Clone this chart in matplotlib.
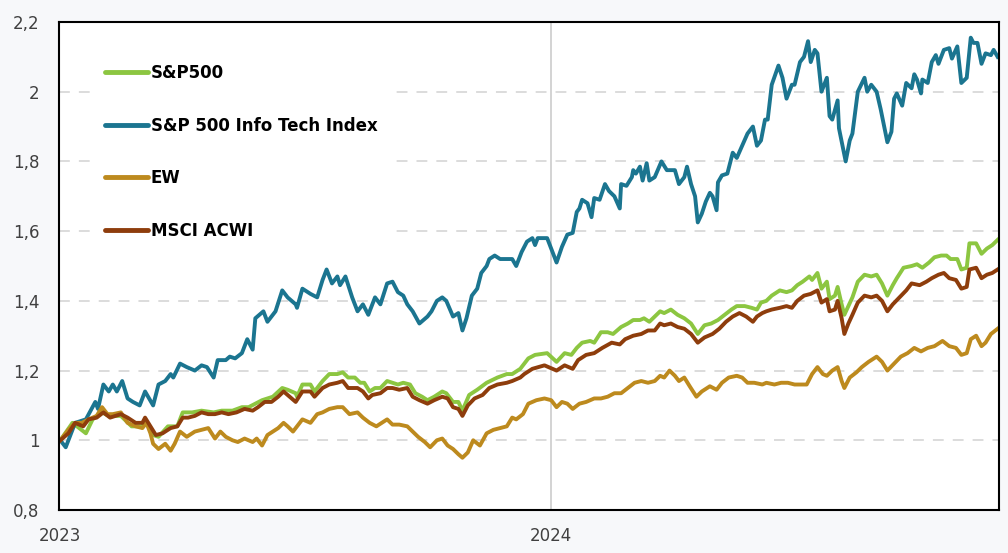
import matplotlib
matplotlib.use('Agg')
import matplotlib.pyplot as plt
import pandas as pd

# Series: day offset from 2023-01-01 and index level (start = 1)
it_days = [0, 4, 11, 19, 26, 28, 32, 36, 39, 42, 46, 50, 54, 59, 63, 69, 73, 78, 82, 84,
           89, 94, 100, 105, 109, 114, 117, 123, 126, 130, 135, 139, 143, 145, 151, 154, 160, 165, 169, 175,
           176, 180, 186, 191, 195, 198, 202, 206, 208, 212, 217, 221, 225, 229, 234, 238, 243, 247, 251, 255,
           258, 262, 267, 273, 276, 280, 284, 287, 292, 296, 299, 302, 306, 310, 313, 317, 319, 323, 327, 332,
           336, 339, 343, 347, 351, 353, 355, 362, 365, 369, 373, 377, 381, 384, 386, 388, 392, 395, 397, 401,
           405, 408, 412, 416, 417, 421, 425, 426, 428, 431, 433, 436, 438, 442, 447, 451, 457, 460, 464, 466,
           469, 472, 474, 477, 480, 483, 485, 488, 489, 492, 496, 500, 503, 507, 511, 515, 518, 521, 524, 526,
           529, 534, 537, 540, 544, 546, 550, 553, 556, 558, 561, 563, 566, 570, 572, 574, 578, 579, 583, 584,
           587, 589, 593, 598, 600, 603, 607, 610, 615, 618, 620, 622, 626, 629, 633, 635, 637, 640, 641, 645,
           648, 651, 653, 657, 661, 663, 667, 670, 674, 677, 679, 682, 685, 688, 692, 694, 697]
it_vals = [1.00, 0.98, 1.05, 1.06, 1.11, 1.09, 1.16, 1.14, 1.16, 1.14, 1.17, 1.12, 1.11, 1.10, 1.14, 1.10, 1.16, 1.17, 1.19, 1.18,
           1.22, 1.21, 1.20, 1.215, 1.21, 1.18, 1.23, 1.23, 1.24, 1.235, 1.25, 1.29, 1.26, 1.35, 1.37, 1.34, 1.37, 1.43, 1.41, 1.39,
           1.38, 1.435, 1.42, 1.41, 1.46, 1.49, 1.45, 1.47, 1.445, 1.47, 1.41, 1.37, 1.39, 1.36, 1.41, 1.39, 1.45, 1.455, 1.425, 1.415,
           1.39, 1.37, 1.335, 1.355, 1.37, 1.40, 1.41, 1.40, 1.355, 1.365, 1.315, 1.35, 1.415, 1.435, 1.48, 1.50, 1.52, 1.53, 1.52, 1.52,
           1.52, 1.50, 1.54, 1.57, 1.58, 1.56, 1.58, 1.58, 1.55, 1.51, 1.555, 1.59, 1.595, 1.655, 1.665, 1.69, 1.68, 1.64, 1.695, 1.69,
           1.735, 1.715, 1.70, 1.665, 1.735, 1.73, 1.755, 1.775, 1.765, 1.785, 1.745, 1.795, 1.745, 1.755, 1.80, 1.775, 1.775, 1.735, 1.755, 1.785,
           1.735, 1.70, 1.625, 1.65, 1.685, 1.71, 1.70, 1.66, 1.74, 1.76, 1.765, 1.825, 1.81, 1.845, 1.88, 1.90, 1.845, 1.86, 1.92, 1.92,
           2.02, 2.075, 2.04, 1.98, 2.02, 2.02, 2.085, 2.10, 2.145, 2.085, 2.12, 2.11, 2.00, 2.04, 1.93, 1.92, 1.975, 1.895, 1.82, 1.80,
           1.86, 1.88, 2.00, 2.04, 2.00, 2.02, 2.00, 1.95, 1.855, 1.885, 1.98, 1.995, 1.96, 2.025, 2.01, 2.05, 2.035, 1.995, 2.035, 2.025,
           2.085, 2.105, 2.08, 2.12, 2.125, 2.095, 2.13, 2.025, 2.04, 2.155, 2.14, 2.14, 2.08, 2.11, 2.105, 2.12, 2.10]

spx_days = [0, 9, 19, 24, 31, 36, 45, 53, 61, 63, 69, 73, 80, 87, 91, 98, 105, 114, 120, 128,
            135, 140, 145, 150, 154, 158, 165, 169, 175, 176, 180, 186, 189, 195, 200, 206, 210, 214, 219, 223,
            226, 230, 234, 238, 243, 247, 251, 255, 260, 264, 269, 273, 278, 284, 287, 292, 296, 299, 304, 310,
            317, 325, 332, 336, 342, 345, 348, 353, 362, 369, 375, 380, 384, 388, 394, 397, 402, 407, 411, 417,
            422, 426, 431, 434, 438, 442, 446, 449, 454, 459, 464, 469, 474, 479, 484, 489, 494, 499, 503, 509,
            514, 518, 521, 525, 529, 535, 540, 544, 548, 552, 557, 559, 563, 566, 570, 572, 576, 578, 581, 583,
            586, 589, 593, 598, 603, 607, 611, 615, 619, 622, 627, 633, 637, 641, 646, 650, 655, 659, 662, 667,
            670, 674, 676, 681, 685, 689, 693, 697]
spx_vals = [1.00, 1.05, 1.02, 1.06, 1.08, 1.07, 1.07, 1.04, 1.04, 1.06, 1.015, 1.01, 1.04, 1.04, 1.08, 1.08, 1.085, 1.08, 1.085, 1.085,
            1.095, 1.095, 1.105, 1.115, 1.12, 1.125, 1.15, 1.145, 1.135, 1.125, 1.16, 1.16, 1.14, 1.17, 1.19, 1.19, 1.195, 1.18, 1.18, 1.165,
            1.165, 1.14, 1.15, 1.15, 1.17, 1.165, 1.16, 1.165, 1.16, 1.135, 1.125, 1.115, 1.125, 1.14, 1.135, 1.11, 1.11, 1.085, 1.13, 1.145,
            1.165, 1.18, 1.19, 1.19, 1.205, 1.22, 1.235, 1.245, 1.25, 1.225, 1.25, 1.245, 1.265, 1.28, 1.285, 1.28, 1.31, 1.31, 1.305, 1.325,
            1.335, 1.345, 1.345, 1.35, 1.34, 1.355, 1.37, 1.365, 1.375, 1.36, 1.35, 1.335, 1.305, 1.33, 1.335, 1.345, 1.36, 1.375, 1.385, 1.385,
            1.38, 1.375, 1.395, 1.40, 1.415, 1.43, 1.425, 1.43, 1.445, 1.455, 1.47, 1.46, 1.48, 1.435, 1.455, 1.405, 1.415, 1.44, 1.39, 1.36,
            1.385, 1.41, 1.455, 1.475, 1.47, 1.475, 1.45, 1.415, 1.445, 1.465, 1.495, 1.50, 1.505, 1.495, 1.51, 1.525, 1.53, 1.53, 1.52, 1.52,
            1.49, 1.495, 1.565, 1.565, 1.535, 1.55, 1.56, 1.575]

ew_days = [0, 6, 11, 16, 21, 27, 31, 35, 39, 45, 50, 56, 61, 64, 67, 69, 73, 78, 82, 85,
           89, 94, 100, 105, 110, 115, 119, 123, 128, 132, 137, 143, 146, 150, 154, 158, 162, 166, 169, 173,
           180, 186, 191, 195, 200, 206, 210, 215, 221, 225, 230, 235, 239, 243, 247, 252, 258, 262, 266, 271,
           275, 280, 284, 288, 292, 296, 299, 303, 307, 312, 317, 322, 327, 332, 336, 339, 344, 348, 354, 360,
           365, 369, 373, 377, 381, 386, 391, 397, 402, 407, 412, 417, 422, 427, 432, 437, 442, 446, 449, 453,
           457, 460, 464, 468, 473, 477, 483, 488, 492, 497, 503, 507, 511, 516, 522, 525, 531, 536, 541, 546,
           551, 555, 559, 563, 567, 570, 574, 578, 581, 583, 587, 592, 596, 601, 607, 611, 615, 620, 625, 630,
           635, 640, 645, 650, 656, 661, 666, 670, 674, 677, 681, 685, 688, 692, 697]
ew_vals = [1.00, 1.03, 1.05, 1.05, 1.06, 1.07, 1.095, 1.075, 1.075, 1.08, 1.05, 1.04, 1.035, 1.05, 1.02, 0.99, 0.975, 0.99, 0.97, 0.99,
           1.025, 1.01, 1.025, 1.03, 1.035, 1.005, 1.025, 1.01, 1.00, 0.995, 1.005, 0.995, 1.005, 0.985, 1.015, 1.025, 1.035, 1.05, 1.04, 1.025,
           1.06, 1.05, 1.075, 1.08, 1.09, 1.095, 1.095, 1.075, 1.08, 1.065, 1.05, 1.04, 1.05, 1.06, 1.045, 1.045, 1.04, 1.025, 1.01, 0.995,
           0.98, 1.00, 1.005, 0.985, 0.975, 0.96, 0.95, 0.965, 1.00, 0.985, 1.02, 1.03, 1.035, 1.04, 1.065, 1.06, 1.075, 1.105, 1.115, 1.12,
           1.115, 1.095, 1.11, 1.105, 1.09, 1.105, 1.11, 1.12, 1.12, 1.125, 1.135, 1.135, 1.15, 1.165, 1.17, 1.165, 1.17, 1.185, 1.18, 1.20,
           1.185, 1.17, 1.18, 1.155, 1.125, 1.14, 1.155, 1.145, 1.165, 1.18, 1.185, 1.18, 1.165, 1.165, 1.16, 1.165, 1.16, 1.165, 1.165, 1.16,
           1.16, 1.16, 1.19, 1.21, 1.19, 1.185, 1.20, 1.21, 1.17, 1.15, 1.18, 1.195, 1.21, 1.225, 1.24, 1.225, 1.20, 1.22, 1.24, 1.25,
           1.265, 1.255, 1.265, 1.27, 1.285, 1.27, 1.265, 1.245, 1.25, 1.29, 1.30, 1.27, 1.28, 1.305, 1.32]

acwi_days = [0, 6, 11, 17, 21, 27, 32, 37, 41, 45, 50, 56, 61, 63, 67, 71, 76, 82, 87, 91,
             95, 100, 105, 110, 115, 120, 125, 131, 137, 143, 147, 152, 157, 162, 166, 169, 175, 180, 186, 189,
             195, 200, 206, 210, 214, 221, 225, 229, 232, 238, 243, 247, 252, 258, 262, 267, 273, 278, 284, 288,
             292, 296, 299, 303, 308, 314, 319, 325, 332, 336, 342, 345, 351, 360, 369, 375, 381, 385, 391, 397,
             403, 410, 416, 420, 426, 432, 437, 442, 446, 449, 454, 459, 464, 469, 474, 479, 485, 490, 495, 500,
             505, 510, 515, 518, 522, 525, 529, 535, 540, 544, 548, 553, 558, 563, 566, 570, 572, 576, 578, 581,
             583, 586, 589, 593, 598, 603, 607, 611, 615, 619, 624, 629, 633, 639, 644, 648, 653, 657, 661, 666,
             670, 674, 676, 681, 685, 689, 693, 697]
acwi_vals = [1.00, 1.02, 1.05, 1.04, 1.06, 1.065, 1.08, 1.065, 1.07, 1.075, 1.065, 1.05, 1.05, 1.065, 1.04, 1.015, 1.02, 1.035, 1.04, 1.065,
             1.065, 1.07, 1.08, 1.075, 1.075, 1.08, 1.075, 1.08, 1.09, 1.085, 1.095, 1.11, 1.11, 1.125, 1.14, 1.13, 1.11, 1.14, 1.14, 1.125,
             1.15, 1.16, 1.165, 1.17, 1.15, 1.15, 1.14, 1.12, 1.13, 1.135, 1.15, 1.15, 1.145, 1.15, 1.125, 1.115, 1.105, 1.115, 1.125, 1.12,
             1.095, 1.09, 1.07, 1.10, 1.12, 1.13, 1.15, 1.16, 1.165, 1.17, 1.18, 1.19, 1.205, 1.215, 1.20, 1.215, 1.205, 1.23, 1.245, 1.25,
             1.265, 1.28, 1.275, 1.29, 1.30, 1.305, 1.315, 1.315, 1.335, 1.33, 1.335, 1.325, 1.32, 1.305, 1.28, 1.295, 1.305, 1.32, 1.34, 1.355,
             1.365, 1.355, 1.34, 1.355, 1.365, 1.37, 1.375, 1.38, 1.385, 1.38, 1.40, 1.415, 1.42, 1.43, 1.395, 1.405, 1.37, 1.375, 1.40, 1.35,
             1.305, 1.335, 1.36, 1.395, 1.415, 1.41, 1.415, 1.40, 1.37, 1.39, 1.41, 1.43, 1.45, 1.445, 1.455, 1.465, 1.475, 1.48, 1.465, 1.46,
             1.435, 1.44, 1.49, 1.495, 1.465, 1.475, 1.48, 1.49]

series_names = ['S&P500', 'S&P 500 Info Tech Index', 'EW', 'MSCI ACWI']
y_ticks = [0.8, 1.0, 1.2, 1.4, 1.6, 1.8, 2.0, 2.2]
y_labels = ['0,8', '1', '1,2', '1,4', '1,6', '1,8', '2', '2,2']
x_ticks = ['2023-01-01', '2024-01-01']
x_labels = ['2023', '2024']

start = pd.Timestamp('2023-01-01')


def to_dates(days):
    return start + pd.to_timedelta(days, unit='D')


plt.rcParams['font.family'] = ['DejaVu Sans']

fig = plt.figure(figsize=(10.08, 5.53), dpi=100, facecolor='#f7f8fa')
ax = fig.add_axes([59 / 1008, 1 - 510 / 553, 940 / 1008, 488 / 553])
ax.set_facecolor('white')

# dashed horizontal grid and the year separator
for v in y_ticks[1:-1]:
    ax.axhline(v, color='#d9d9d9', lw=1.3, ls=(0, (6, 5)), zorder=0)
ax.axvline(pd.Timestamp('2024-01-01'), color='#d3d3d3', lw=1.4, zorder=0)

# the four index lines
lw = 2.8
ax.plot(to_dates(spx_days), spx_vals, color='#8cc641', lw=lw, label=series_names[0])
ax.plot(to_dates(it_days), it_vals, color='#1b7590', lw=lw, label=series_names[1])
ax.plot(to_dates(ew_days), ew_vals, color='#bd8a1e', lw=lw, label=series_names[2])
ax.plot(to_dates(acwi_days), acwi_vals, color='#8e3d0c', lw=lw, label=series_names[3])

ax.set_ylim(0.8, 2.2)
ax.set_xlim(start - pd.Timedelta(days=1), start + pd.Timedelta(days=698))
ax.set_yticks(y_ticks)
ax.set_yticklabels(y_labels)
ax.set_xticks(pd.to_datetime(x_ticks))
ax.set_xticklabels(x_labels)
ax.tick_params(axis='both', length=0, labelsize=12, colors='#404040')
ax.tick_params(axis='y', pad=14)
ax.tick_params(axis='x', pad=12)

for s in ax.spines.values():
    s.set_color('black')
    s.set_linewidth(1.5)

leg = ax.legend(loc='upper left', bbox_to_anchor=(95 / 1008, 1 - 54 / 553),
                bbox_transform=fig.transFigure, borderaxespad=0,
                frameon=True, fancybox=False, facecolor='white', edgecolor='white',
                framealpha=1, prop={'weight': 'bold', 'size': 12},
                handlelength=2.6, handletextpad=0.15, labelspacing=2.08, borderpad=0.6)
for line in leg.get_lines():
    line.set_linewidth(3.5)
    line.set_solid_capstyle('round')

plt.savefig('out.png', dpi=100, facecolor=fig.get_facecolor())
